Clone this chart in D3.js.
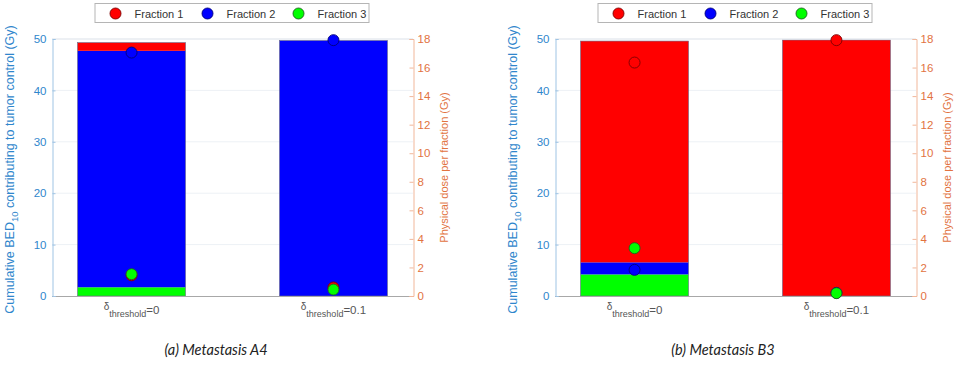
<!DOCTYPE html>
<html>
<head>
<meta charset="utf-8">
<script src="https://cdn.jsdelivr.net/npm/d3@7"></script>
<style>
  html, body { margin: 0; padding: 0; background: #fff; }
  svg { display: block; font-family: "Liberation Sans", Arial, sans-serif; }
</style>
</head>
<body>
<svg id="chart" width="959" height="365"></svg>
<script>
// Threshold settings compared in each panel
const categories = ["0", "0.1"];
const fractionNames = ["Fraction 1", "Fraction 2", "Fraction 3"];
const fractionColors = ["#ff0000", "#0000ff", "#00ff00"];
const fractionEdges = ["#7a0000", "#00007a", "#1f5f1f"];

const leftTicks = [0, 10, 20, 30, 40, 50];
const rightTicks = [0, 2, 4, 6, 8, 10, 12, 14, 16, 18];

// Metastasis A4: cumulative BED10 contributing to tumor control (Gy), per fraction
const bedA4Fraction1 = [1.6, 0];
const bedA4Fraction2 = [46.0, 49.7];
const bedA4Fraction3 = [1.7, 0];
// Metastasis A4: physical dose per fraction (Gy)
const doseA4Fraction1 = [1.45, 0.6];
const doseA4Fraction2 = [17.05, 17.92];
const doseA4Fraction3 = [1.53, 0.45];

// Metastasis B3: cumulative BED10 contributing to tumor control (Gy), per fraction
const bedB3Fraction1 = [43.05, 49.8];
const bedB3Fraction2 = [2.35, 0];
const bedB3Fraction3 = [4.2, 0];
// Metastasis B3: physical dose per fraction (Gy)
const doseB3Fraction1 = [16.35, 17.92];
const doseB3Fraction2 = [1.83, 0.22];
const doseB3Fraction3 = [3.35, 0.2];

const panels = [
  { caption: "(a) Metastasis A4", x0: 52, x1: 413, captionX: 216,
    bed: [bedA4Fraction1, bedA4Fraction2, bedA4Fraction3],
    dose: [doseA4Fraction1, doseA4Fraction2, doseA4Fraction3] },
  { caption: "(b) Metastasis B3", x0: 555, x1: 916, captionX: 723,
    bed: [bedB3Fraction1, bedB3Fraction2, bedB3Fraction3],
    dose: [doseB3Fraction1, doseB3Fraction2, doseB3Fraction3] }
];

const svg = d3.select("#chart");
const yTop = 39, yBottom = 296;
const leftColor = "#2f86cc";
const rightColor = "#e2733f";
const gridColor = "#edf1f5";
const barWidthFrac = 0.535;

panels.forEach(p => {
  const g = svg.append("g");

  const x = d3.scalePoint().domain(categories).range([p.x0, p.x1]).padding(0.394);
  const yL = d3.scaleLinear().domain([0, 50]).range([yBottom, yTop]);
  const yR = d3.scaleLinear().domain([0, 18]).range([yBottom, yTop]);
  const barW = x.step() * barWidthFrac;

  // grid lines
  g.append("g").selectAll("line").data(leftTicks.slice(1)).join("line")
    .attr("x1", p.x0).attr("x2", p.x1)
    .attr("y1", d => yL(d)).attr("y2", d => yL(d))
    .attr("stroke", gridColor).attr("stroke-width", 1);

  // stacked bars: fraction 3 at the bottom, fraction 1 on top
  const rows = categories.map((c, i) => ({
    cat: c, f1: p.bed[0][i], f2: p.bed[1][i], f3: p.bed[2][i]
  }));
  const stack = d3.stack().keys(["f3", "f2", "f1"])(rows);
  const keyColor = { f1: fractionColors[0], f2: fractionColors[1], f3: fractionColors[2] };
  stack.forEach(layer => {
    g.append("g").selectAll("rect").data(layer).join("rect")
      .attr("x", d => x(d.data.cat) - barW / 2)
      .attr("width", barW)
      .attr("y", d => yL(d[1]))
      .attr("height", d => yL(d[0]) - yL(d[1]))
      .attr("fill", keyColor[layer.key]);
  });
  // bar outlines
  g.append("g").selectAll("rect").data(rows).join("rect")
    .attr("x", d => x(d.cat) - barW / 2)
    .attr("width", barW)
    .attr("y", d => yL(d.f1 + d.f2 + d.f3))
    .attr("height", d => yBottom - yL(d.f1 + d.f2 + d.f3))
    .attr("fill", "none").attr("stroke", "#6b6b8a").attr("stroke-width", 0.6);

  // top box line
  g.append("line").attr("x1", p.x0).attr("x2", p.x1).attr("y1", yTop).attr("y2", yTop)
    .attr("stroke", "#e4e8ee").attr("stroke-width", 1);

  // bottom axis
  g.append("line").attr("x1", p.x0).attr("x2", p.x1).attr("y1", yBottom + 0.5).attr("y2", yBottom + 0.5)
    .attr("stroke", "#a8a8a8").attr("stroke-width", 1);

  // left axis
  const axL = g.append("g").attr("transform", `translate(${p.x0 + 0.5},0)`)
    .call(d3.axisLeft(yL).tickValues(leftTicks).tickSize(-3).tickPadding(6));
  axL.select(".domain").attr("stroke", "#9fc4e4");
  axL.selectAll(".tick line").attr("stroke", "#9fc4e4");
  axL.selectAll(".tick text").attr("fill", leftColor).attr("font-size", "11.5px")
    .attr("font-family", "'Liberation Sans', Arial, sans-serif");

  // right axis
  const axR = g.append("g").attr("transform", `translate(${p.x1 + 0.5},0)`)
    .call(d3.axisRight(yR).tickValues(rightTicks).tickSize(-4).tickPadding(4));
  axR.select(".domain").attr("stroke", "#f1b79a");
  axR.selectAll(".tick line").attr("stroke", "#f1b79a");
  axR.selectAll(".tick text").attr("fill", rightColor).attr("font-size", "11.5px")
    .attr("font-family", "'Liberation Sans', Arial, sans-serif");

  // dose markers per fraction
  p.dose.forEach((vals, fi) => {
    g.append("g").selectAll("circle").data(vals).join("circle")
      .attr("cx", (d, i) => x(categories[i]))
      .attr("cy", d => yR(d))
      .attr("r", 5.5)
      .attr("fill", fractionColors[fi])
      .attr("stroke", fractionEdges[fi]).attr("stroke-width", 0.9);
  });

  // x tick labels
  categories.forEach(c => {
    const t = g.append("text")
      .attr("x", x(c)).attr("y", 314)
      .attr("text-anchor", "middle")
      .attr("fill", "#555")
      .attr("font-size", "11.5px");
    t.append("tspan").attr("font-size", "10px").attr("dy", "-4").text("δ");
    t.append("tspan").attr("font-size", "9px").attr("dy", "7").text("threshold");
    t.append("tspan").attr("dy", "-3").text("=" + c);
  });

  // axis titles
  const leftTitle = g.append("text")
    .attr("transform", `translate(${p.x0 - 38},${(yTop + yBottom) / 2 + 2}) rotate(-90)`)
    .attr("text-anchor", "middle").attr("fill", leftColor).attr("font-size", "12.5px");
  leftTitle.append("tspan").text("Cumulative BED");
  leftTitle.append("tspan").attr("font-size", "9.5px").attr("dy", "4").text("10");
  leftTitle.append("tspan").attr("dy", "-4").text(" contributing to tumor control (Gy)");

  g.append("text")
    .attr("transform", `translate(${p.x1 + 35},${(yTop + yBottom) / 2}) rotate(-90)`)
    .attr("text-anchor", "middle").attr("fill", rightColor).attr("font-size", "11px")
    .text("Physical dose per fraction (Gy)");

  // legend
  const cx = (p.x0 + p.x1) / 2;
  const lg = g.append("g").attr("transform", `translate(${cx - 138},3)`);
  lg.append("rect").attr("x", 0.5).attr("y", 0.5).attr("width", 274).attr("height", 19)
    .attr("fill", "#fff").attr("stroke", "#b5b5b5").attr("stroke-width", 1);
  const itemX = [21, 113, 204];
  fractionNames.forEach((name, i) => {
    lg.append("circle").attr("cx", itemX[i]).attr("cy", 10.5).attr("r", 5.5)
      .attr("fill", fractionColors[i]).attr("stroke", fractionEdges[i]).attr("stroke-width", 0.9);
    lg.append("text").attr("x", itemX[i] + 19).attr("y", 14.5)
      .attr("font-size", "11px").attr("fill", "#333").text(name);
  });

  // caption
  svg.append("text")
    .attr("x", p.captionX).attr("y", 355)
    .attr("text-anchor", "middle")
    .attr("font-family", "Lato, 'Open Sans', sans-serif")
    .attr("font-style", "italic").attr("font-size", "14.5px").attr("fill", "#222")
    .text(p.caption);
});
</script>
</body>
</html>
